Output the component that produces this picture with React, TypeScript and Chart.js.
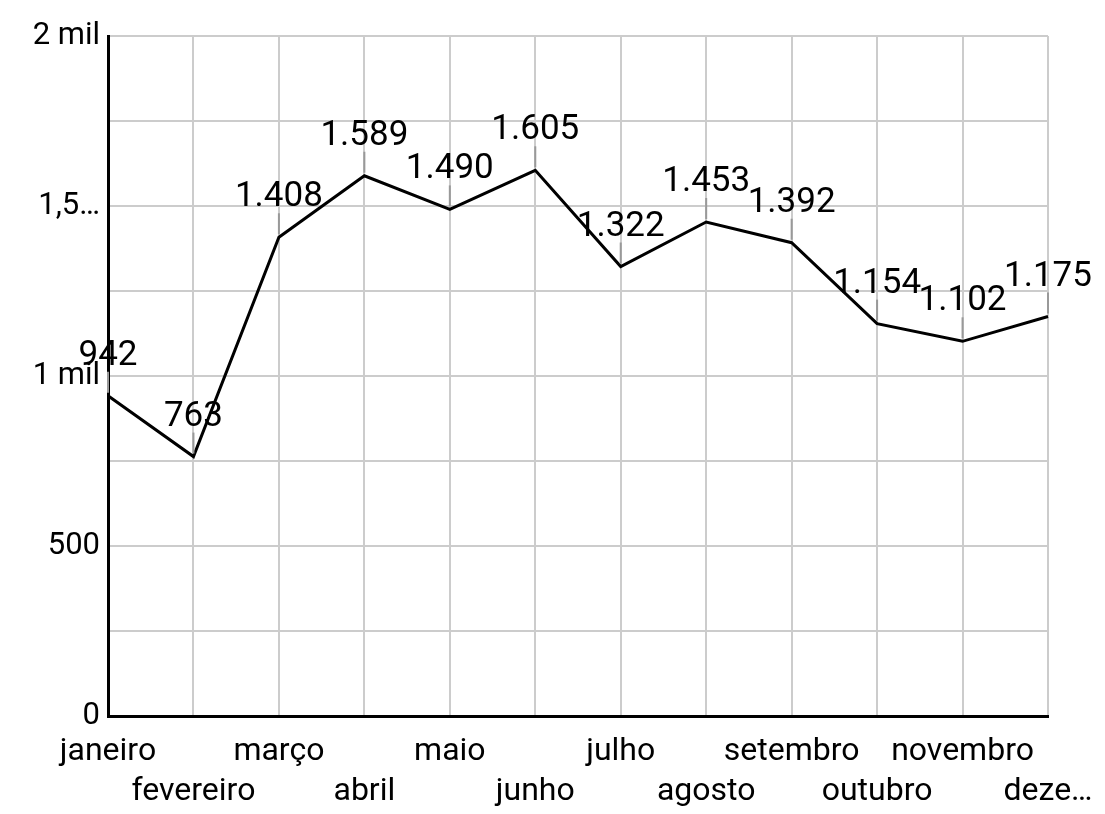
import React, { useEffect, useRef } from "react";
import { Chart, registerables } from "chart.js";

Chart.register(...registerables);

const months = [
  "janeiro", "fevereiro", "março", "abril", "maio", "junho",
  "julho", "agosto", "setembro", "outubro", "novembro", "dezembro",
];
const monthLabels = [
  "janeiro", "fevereiro", "março", "abril", "maio", "junho",
  "julho", "agosto", "setembro", "outubro", "novembro", "deze…",
];
const values = [942, 763, 1408, 1589, 1490, 1605, 1322, 1453, 1392, 1154, 1102, 1175];
const yTickLabels: Record<number, string> = {
  0: "0",
  500: "500",
  1000: "1 mil",
  1500: "1,5…",
  2000: "2 mil",
};

const FONT = "Roboto";

function fmt(n: number): string {
  const s = String(Math.round(n));
  return s.replace(/\B(?=(\d{3})+(?!\d))/g, ".");
}

const dataLabelPlugin = {
  id: "dataLabels",
  afterDatasetsDraw(chart: any) {
    const ctx = chart.ctx;
    const meta = chart.getDatasetMeta(0);
    ctx.save();
    meta.data.forEach((pt: any, i: number) => {
      const x = pt.x;
      const y = pt.y;
      ctx.strokeStyle = "#999999";
      ctx.lineWidth = 2;
      ctx.beginPath();
      ctx.moveTo(x, y - 3);
      ctx.lineTo(x, y - 24);
      ctx.stroke();
      ctx.fillStyle = "#000000";
      ctx.font = `35px ${FONT}`;
      ctx.textAlign = "center";
      ctx.textBaseline = "alphabetic";
      ctx.fillText(fmt(values[i]), x, y - 31);
    });
    ctx.restore();
  },
};

export default function App() {
  const ref = useRef<HTMLCanvasElement | null>(null);
  useEffect(() => {
    if (!ref.current) return;
    const chart = new Chart(ref.current, {
      type: "line",
      data: {
        labels: months,
        datasets: [
          {
            data: values,
            borderColor: "#000000",
            borderWidth: 3,
            pointRadius: 0,
            pointHoverRadius: 0,
            tension: 0,
            fill: false,
          },
        ],
      },
      options: {
        animation: false,
        responsive: true,
        maintainAspectRatio: false,
        layout: { padding: { top: 28, right: 49, left: 0, bottom: 0 } },
        plugins: {
          legend: { display: false },
          tooltip: { enabled: false },
        },
        scales: {
          x: {
            offset: false,
            grid: { color: "#cccccc", lineWidth: 2, drawTicks: false },
            border: { color: "#000000", width: 3 },
            ticks: {
              autoSkip: false,
              maxRotation: 0,
              minRotation: 0,
              padding: 16,
              color: "#000000",
              font: { family: FONT, size: 32, lineHeight: 1.25 },
              callback: (_v: any, i: number) =>
                i % 2 === 0 ? [monthLabels[i]] : ["", monthLabels[i]],
            },
            afterFit: (scale: any) => {
              scale.height = 90;
              scale.paddingLeft = 0;
              scale.paddingRight = 0;
            },
          },
          y: {
            min: 0,
            max: 2000,
            grid: { color: "#cccccc", lineWidth: 2, drawTicks: false },
            border: { color: "#000000", width: 3 },
            ticks: {
              stepSize: 250,
              autoSkip: false,
              padding: 8,
              color: "#000000",
              font: { family: FONT, size: 31 },
              callback: (v: any) => (v % 500 === 0 ? yTickLabels[v] : ""),
            },
            afterFit: (scale: any) => {
              scale.width = 100;
              scale.paddingTop = 0;
              scale.paddingBottom = 0;
            },
          },
        },
      },
      plugins: [dataLabelPlugin],
    } as any);
    return () => chart.destroy();
  }, []);
  return (
    <div style={{ position: "relative", width: 1089, height: 798 }}>
      <canvas ref={ref} />
    </div>
  );
}
